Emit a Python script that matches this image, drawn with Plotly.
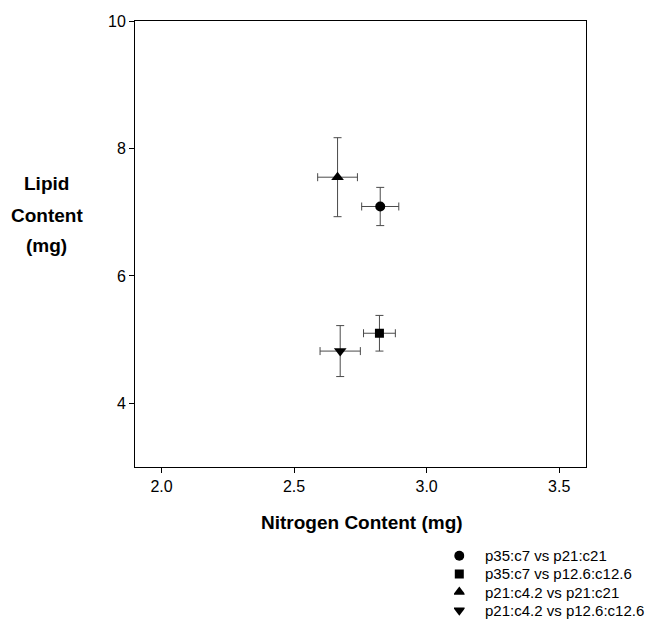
import plotly.graph_objects as go

# ---- data ----
series_names = [
    "p35:c7 vs p21:c21",
    "p35:c7 vs p12.6:c12.6",
    "p21:c4.2 vs p21:c21",
    "p21:c4.2 vs p12.6:c12.6",
]
nitrogen = [2.825, 2.822, 2.664, 2.674]
nitrogen_err = [0.070, 0.060, 0.075, 0.076]
lipid = [7.09, 5.10, 7.55, 4.82]
lipid_err = [0.30, 0.28, 0.62, 0.40]
x_ticks = [2.0, 2.5, 3.0, 3.5]
y_ticks = [4, 6, 8, 10]

# ---- style ----
symbols = ["circle", "square", "triangle-up", "triangle-down"]
sizes = [10, 9, 11, 11]
FONT = "Arial, Liberation Sans, sans-serif"
W, H = 646, 621

fig = go.Figure()
for i, name in enumerate(series_names):
    fig.add_trace(go.Scatter(
        x=[nitrogen[i]], y=[lipid[i]], mode="markers", name=name,
        showlegend=False,
        marker=dict(symbol=symbols[i], size=sizes[i], color="black",
                    line=dict(width=0)),
        error_x=dict(type="data", array=[nitrogen_err[i]], color="#4a4a4a",
                     thickness=1, width=4),
        error_y=dict(type="data", array=[lipid_err[i]], color="#4a4a4a",
                     thickness=1, width=4),
    ))

# legend drawn on an auxiliary axis pair (one row per series)
legend_rows = list(range(len(series_names)))
for i, name in enumerate(series_names):
    fig.add_trace(go.Scatter(
        x=[0], y=[legend_rows[i]], mode="markers", name=name, showlegend=False,
        hoverinfo="skip", xaxis="x2", yaxis="y2",
        marker=dict(symbol=symbols[i], size=sizes[i], color="black", line=dict(width=0)),
    ))

axis_common = dict(showline=True, linecolor="black", linewidth=1, mirror=True,
                   showgrid=False, zeroline=False, ticks="outside", ticklen=5,
                   tickcolor="black", tickfont=dict(family=FONT, size=16, color="black"))

fig.update_layout(
    xaxis=dict(domain=[135 / W, 585.7 / W], range=[1.9, 3.6], tickvals=x_ticks,
               ticktext=[f"{v:.1f}" for v in x_ticks], anchor="y", **axis_common),
    yaxis=dict(domain=[1 - 465 / H, 1 - 13.3 / H], range=[3, 10], tickvals=y_ticks,
               ticktext=[str(v) for v in y_ticks], anchor="x", **axis_common),
    xaxis2=dict(domain=[454 / W, 464.6 / W], range=[-0.5, 0.5], visible=False,
                anchor="y2", fixedrange=True),
    yaxis2=dict(domain=[1 - 619.2 / H, 1 - 545.8 / H], range=[3.5, -0.5], visible=False,
                anchor="x2", fixedrange=True),
)

annotations = [
    dict(text="Nitrogen Content (mg)", x=362 / W, y=1 - 521 / H, xref="paper", yref="paper",
         xanchor="center", yanchor="middle", showarrow=False,
         font=dict(family=FONT, size=19, color="black", weight="bold")),
]
for txt, py in zip(["Lipid", "Content", "(mg)"], [178, 210, 241]):
    annotations.append(dict(text=txt, x=47 / W, y=1 - py / H, xref="paper", yref="paper",
                            xanchor="center", yanchor="middle", showarrow=False,
                            font=dict(family=FONT, size=19, color="black", weight="bold")))
for i, name in enumerate(series_names):
    annotations.append(dict(text=name, x=0, y=legend_rows[i], xref="x2", yref="y2",
                            xanchor="left", yanchor="middle", xshift=24, showarrow=False,
                            font=dict(family=FONT, size=15, color="black")))

fig.update_layout(
    width=W, height=H,
    margin=dict(l=0, r=0, t=0, b=0, pad=0),
    plot_bgcolor="white", paper_bgcolor="white",
    annotations=annotations,
    showlegend=False,
)

fig.write_html("out.html")
